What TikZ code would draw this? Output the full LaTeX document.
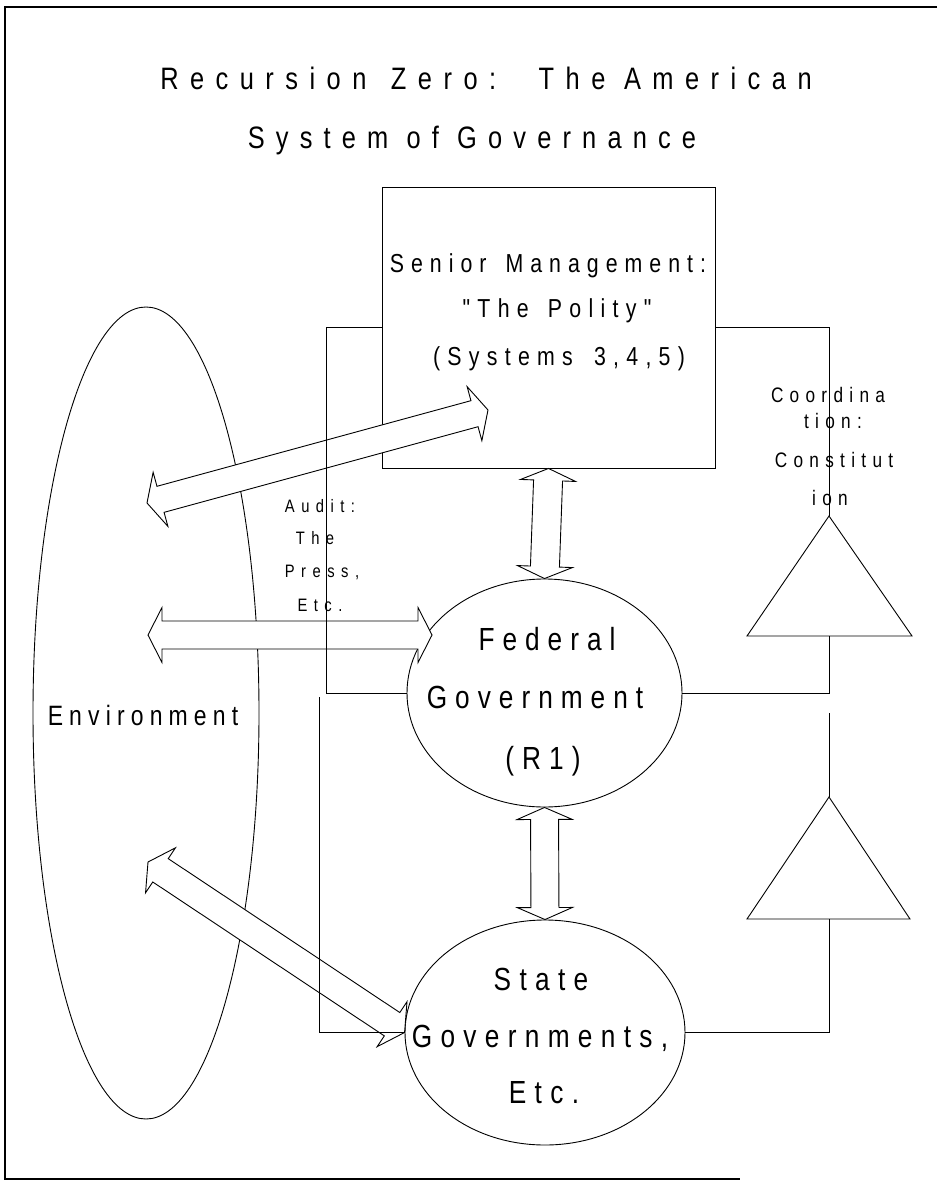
\documentclass[tikz,border=0pt]{standalone}
\usepackage{fontspec}
\newfontfamily\dfont[FakeStretch=0.82]{Liberation Sans}
\usetikzlibrary{calc,shapes.geometric}
\newcommand{\lsfont}[2]{\dfont\fontsize{#1}{#1}\selectfont\addfontfeatures{LetterSpace=#2}}
\newcommand{\blockarrow}[5]{%
  \coordinate (ba1) at ($(#1)!#5!(#2)$);
  \coordinate (ba2) at ($(#2)!#5!(#1)$);
  \draw[blk] (#1) -- ($(ba1)!#4!90:(#2)$) -- ($(ba1)!#3!90:(#2)$)
    -- ($(ba2)!#3!-90:(#1)$) -- ($(ba2)!#4!-90:(#1)$) -- (#2)
    -- ($(ba2)!#4!90:(#1)$) -- ($(ba2)!#3!90:(#1)$)
    -- ($(ba1)!#3!-90:(#2)$) -- ($(ba1)!#4!-90:(#2)$) -- cycle;}
\tikzset{
  ln/.style={line width=0.9pt},
  blk/.style={draw, fill=white, line width=0.9pt, line join=miter},
  shp/.style={draw, line width=0.9pt, inner sep=0pt},
  txt/.style={anchor=base, inner sep=0pt},
  frame/.style={line width=2.5pt},
}
\begin{document}
\begin{tikzpicture}[x=1pt,y=-1pt]
\useasboundingbox (0,0) rectangle (937,1182);
% frame
\draw[frame] (937,7) -- (5,7) -- (5,1179) -- (740,1179);

% shapes
\node[shp, ellipse, minimum width=226pt, minimum height=812pt] (env) at (146,713) {};
\node[shp, rectangle, minimum width=333pt, minimum height=281pt] (senior) at (548.5,327.5) {};
\node[shp, ellipse, minimum width=275pt, minimum height=228pt] (fed) at (544.5,693) {};
\node[shp, ellipse, minimum width=280pt, minimum height=225pt] (state) at (545,1032.5) {};

\coordinate (t1a) at (829,516);
\coordinate (t1b) at (829,636);
\coordinate (t2a) at (829,797);
\coordinate (t2b) at (829,919);
\coordinate (t2stub) at (829,713);
\draw[ln] (t1a) -- ++(83,120) -- ++(-165,0) -- cycle;
\draw[ln] (t2a) -- ++(81,122) -- ++(-163,0) -- cycle;

% block arrows
\coordinate (a1l) at (147,503);
\coordinate (a1r) at (488,410);
\coordinate (a2l) at (148,635);
\coordinate (a2r) at (432,635);
\coordinate (a5l) at (148,862);
\blockarrow{a1l}{a1r}{13.5pt}{28pt}{14pt}
\blockarrow{a2l}{a2r}{14pt}{27.5pt}{14pt}
\blockarrow{senior.south}{fed.north}{14.5pt}{27.5pt}{12pt}
\blockarrow{fed.south}{state.north}{14pt}{27.5pt}{12pt}
\blockarrow{a5l}{state.west}{14pt}{27pt}{15pt}

% connectors
\coordinate (kL) at (326,693);
\coordinate (lstub) at (319,697);
\draw[ln] (senior.west) -| (kL) -- (fed.west);
\draw[ln] (senior.east) -| (t1a);
\draw[ln] (t1b) |- (fed.east);
\draw[ln] (t2b) |- (state.east);
\draw[ln] (t2a) -- (t2stub);
\draw[ln] (lstub) |- (state.west);

% texts
\node[txt, font=\lsfont{31}{37}] (title1) at (486,90) {Recursion\hspace{6pt} Zero:\ \hspace{24pt}The American};
\node[txt, font=\lsfont{31}{36}] (title2) at (472,149) {System of Governance};

\node[txt, font=\lsfont{26}{27}] (sm1) at (548,272) {Senior\hspace{6pt} Management:};
\node[txt, font=\lsfont{26}{28}] (sm2) at (557,317) {"The\hspace{6pt} Polity"};
\node[txt, font=\lsfont{26}{28}] (sm3) at (559,365) {(Systems\hspace{8pt} 3,4,5)};

\node[txt, font=\lsfont{32}{25}] (fg1) at (547,650) {Federal};
\node[txt, font=\lsfont{32}{25}] (fg2) at (535,708) {Government};
\node[txt, font=\lsfont{32}{25}] (fg3) at (543,769) {(R1)};

\node[txt, font=\lsfont{32}{26}] (sg1) at (541,990) {State};
\node[txt, font=\lsfont{32}{26}] (sg2) at (540,1047) {Governments,};
\node[txt, font=\lsfont{32}{26}] (sg3) at (544,1103) {Etc.};

\node[txt, font=\lsfont{28}{22}] (envt) at (143,725) {Environment};

\node[txt, font=\lsfont{18}{36}] (au1) at (320,512) {Audit:};
\node[txt, font=\lsfont{18}{36}] (au2) at (315,544) {The};
\node[txt, font=\lsfont{18}{36}] (au3) at (322,577) {Press,};
\node[txt, font=\lsfont{18}{36}] (au4) at (320,611) {Etc.};

\node[txt, font=\lsfont{21}{30}] (co1) at (828,402) {Coordina};
\node[txt, font=\lsfont{21}{30}] (co2) at (833,428) {tion:};
\node[txt, font=\lsfont{21}{30}] (co3) at (834,467) {Constitut};
\node[txt, font=\lsfont{21}{30}] (co4) at (830,505) {ion};
\end{tikzpicture}
\end{document}
